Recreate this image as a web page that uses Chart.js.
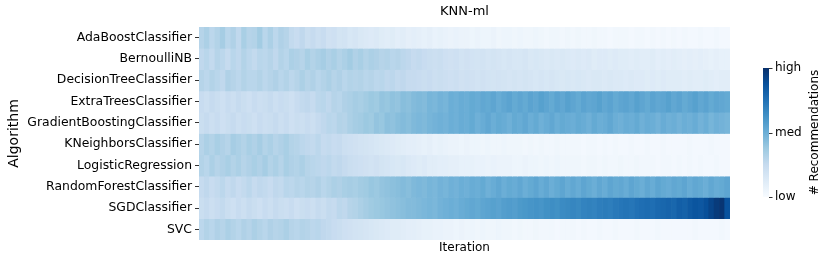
<!DOCTYPE html>
<html>
<head>
<meta charset="utf-8">
<title>KNN-ml</title>
<script src="https://cdn.jsdelivr.net/npm/chart.js"></script>
<style>
  html, body { margin: 0; padding: 0; background: #fff; }
  .wrap { position: relative; width: 831px; height: 265px; }
</style>
</head>
<body>
<div class="wrap"><canvas id="heat" width="831" height="265"></canvas></div>
<script>
// rows of the heatmap, top to bottom
const algorithms = [
  'AdaBoostClassifier', 'BernoulliNB', 'DecisionTreeClassifier', 'ExtraTreesClassifier',
  'GradientBoostingClassifier', 'KNeighborsClassifier', 'LogisticRegression',
  'RandomForestClassifier', 'SGDClassifier', 'SVC'
];

// colour level per iteration (0 = low, 100 = high)
const adaBoost = [
  30,33,28,31,35,29,32,27,34,30, 31,36,29,33,28,32,30,26,24,27,
  23,25,22,24,20,21,18,19,16,17, 15,14,13,14,12,11,12,10,11,9,
  10,9,8,9,7,8,7,6,7,6, 6,5,6,5,5,6,4,5,5,4,
  5,4,4,5,4,3,4,4,3,4, 3,4,3,3,4,3,3,2,3,3,
  3,2,3,3,2,3,2,3,2,3, 2,3,2,2,3,2,2,3,2,2
];
const bernoulliNB = [
  27,29,26,30,28,25,29,27,31,28, 26,29,28,30,27,31,29,33,32,30,
  34,31,33,35,32,34,31,33,36,32, 34,31,33,32,30,31,29,30,28,27,
  25,26,24,23,22,23,21,20,21,19, 20,19,18,19,17,18,17,16,17,16,
  16,17,15,16,15,14,15,14,15,14, 13,14,13,14,12,13,13,12,13,12,
  12,11,12,11,11,12,10,11,10,11, 10,9,10,9,10,9,8,9,8,8
];
const decisionTree = [
  30,28,31,29,27,32,30,28,31,29, 29,31,28,30,32,29,31,28,30,33,
  30,32,29,31,33,30,32,29,31,30, 31,29,30,28,29,27,28,26,27,25,
  25,24,23,24,22,23,22,21,22,20, 21,20,19,20,19,18,19,18,17,18,
  17,18,17,16,17,16,17,16,15,16, 15,16,15,14,15,15,14,15,14,14,
  13,14,13,13,12,13,12,13,12,12, 12,11,12,11,11,12,11,10,11,11
];
const extraTrees = [
  24,22,25,23,21,24,22,25,23,21, 24,22,23,25,22,24,23,21,24,26,
  27,25,28,29,27,30,29,32,33,35, 34,36,38,37,40,39,41,40,43,42,
  44,45,44,47,46,48,47,50,49,51, 50,52,51,53,52,54,51,53,55,52,
  54,52,55,53,56,54,52,55,53,56, 54,52,55,53,54,56,53,55,52,54,
  55,53,56,54,52,55,53,54,56,53, 55,52,54,56,53,55,52,54,53,52
];
const gradientBoosting = [
  23,25,22,24,21,23,25,22,24,23, 21,24,22,23,25,22,24,21,23,22,
  24,22,25,27,29,28,31,30,33,35, 36,38,37,40,39,42,41,43,44,43,
  45,46,45,47,48,49,48,50,49,51, 50,52,49,51,53,50,52,51,49,52,
  51,53,50,52,49,51,53,50,52,51, 50,52,51,49,52,50,51,53,50,49,
  51,50,52,49,51,50,48,51,49,50, 48,50,49,51,48,50,47,49,48,47
];
const kNeighbors = [
  30,33,31,34,32,30,35,33,31,34, 32,35,31,33,30,32,34,31,30,28,
  27,26,28,25,26,24,25,22,21,20, 19,18,17,16,15,14,13,12,11,10,
  10,9,8,9,7,8,7,6,6,5, 6,5,5,4,5,4,4,5,4,4,
  4,3,4,3,4,3,3,4,3,3, 3,3,2,3,3,2,3,2,3,2,
  2,3,2,2,3,2,2,3,2,2, 2,2,3,2,2,2,3,2,2,2
];
const logisticRegression = [
  31,29,33,30,32,34,31,33,30,32, 34,32,35,31,33,30,34,32,31,33,
  30,29,28,27,28,26,27,25,23,22, 21,20,19,20,18,17,16,15,16,14,
  13,12,13,11,11,10,10,9,9,8, 8,8,7,7,6,7,6,6,6,5,
  5,6,5,5,4,5,4,5,4,4, 4,4,3,4,4,3,4,3,3,4,
  3,3,4,3,3,3,2,3,3,2, 3,2,3,2,3,2,2,3,2,2
];
const randomForest = [
  25,27,24,26,28,25,27,24,26,28, 25,27,26,24,27,26,29,28,30,29,
  31,30,32,29,31,33,32,34,35,34, 36,37,39,38,40,41,42,43,44,43,
  45,46,45,47,46,48,47,49,48,50, 49,51,50,52,49,51,53,50,52,51,
  53,50,52,54,51,53,50,52,54,51, 53,51,54,52,50,53,51,54,52,53,
  51,54,52,50,53,51,54,52,51,53, 52,54,51,53,52,50,53,51,52,54
];
const sgd = [
  23,25,22,24,26,23,21,24,22,25, 23,21,24,22,25,23,22,24,21,23,
  24,22,25,23,26,25,28,27,30,31, 33,35,37,38,39,40,41,42,43,44,
  44,45,46,47,46,48,49,50,49,51, 52,53,52,54,55,56,55,57,58,57,
  59,60,61,62,61,63,64,63,65,66, 67,66,68,69,68,70,71,70,72,73,
  74,73,75,76,77,76,78,79,80,79, 82,81,84,86,85,88,92,96,98,87
];
const svc = [
  28,31,29,32,30,33,31,29,32,30, 33,31,29,32,30,31,33,30,29,31,
  30,28,29,27,26,24,23,21,20,19, 18,17,16,15,14,13,12,12,11,10,
  10,9,8,8,7,7,6,6,5,6, 5,5,4,5,4,4,5,4,4,3,
  4,3,3,4,3,3,3,2,3,3, 3,2,3,2,2,3,2,2,3,2,
  2,2,3,2,2,2,3,2,2,2, 2,2,2,3,2,2,2,2,3,2
];

const rows = [adaBoost, bernoulliNB, decisionTree, extraTrees, gradientBoosting,
  kNeighbors, logisticRegression, randomForest, sgd, svc];

const colorbarTicks = ['low', 'med', 'high'];

// matplotlib "Blues"
const BLUES = ['#f7fbff', '#deebf7', '#c6dbef', '#9ecae1', '#6baed6', '#4292c6', '#2171b5', '#08519c', '#08306b'];

function hexRgb(h) {
  return [parseInt(h.slice(1, 3), 16), parseInt(h.slice(3, 5), 16), parseInt(h.slice(5, 7), 16)];
}

function blues(v) {
  const t = Math.max(0, Math.min(1, v / 100)) * (BLUES.length - 1);
  const i = Math.min(BLUES.length - 2, Math.floor(t));
  const f = t - i;
  const a = hexRgb(BLUES[i]), b = hexRgb(BLUES[i + 1]);
  const c = a.map((x, k) => Math.round(x + (b[k] - x) * f));
  return `rgb(${c[0]},${c[1]},${c[2]})`;
}

const FONT = "'DejaVu Sans', sans-serif";

// one dataset per algorithm, one floating bar per iteration
const datasets = rows.map((vals, r) => ({
  label: algorithms[r],
  data: vals.map((v, i) => ({ x: [i, i + 1], y: algorithms[r] })),
  backgroundColor: vals.map(blues),
  borderWidth: 0,
  barPercentage: 1,
  categoryPercentage: 1,
  grouped: false
}));

// title over the heatmap + colorbar on the right
const extras = {
  id: 'extras',
  afterDraw(chart) {
    const { ctx, chartArea } = chart;
    ctx.save();
    ctx.fillStyle = '#000';
    ctx.font = `13px ${FONT}`;
    ctx.textAlign = 'center';
    ctx.textBaseline = 'middle';
    ctx.fillText('KNN-ml', (chartArea.left + chartArea.right) / 2, 12);

    const x = chartArea.right + 33, w = 6;
    const top = chartArea.top + 41, bottom = chartArea.bottom - 43;
    const g = ctx.createLinearGradient(0, bottom, 0, top);
    BLUES.forEach((c, i) => g.addColorStop(i / (BLUES.length - 1), c));
    ctx.fillStyle = g;
    ctx.fillRect(x, top, w, bottom - top);
    ctx.strokeStyle = '#333';
    ctx.lineWidth = 1;
    ctx.fillStyle = '#000';
    ctx.font = `12px ${FONT}`;
    ctx.textAlign = 'left';
    colorbarTicks.forEach((t, i) => {
      const y = bottom - (bottom - top) * i / (colorbarTicks.length - 1);
      ctx.beginPath();
      ctx.moveTo(x + w, Math.round(y) + 0.5);
      ctx.lineTo(x + w + 3.5, Math.round(y) + 0.5);
      ctx.stroke();
      ctx.fillText(t, x + w + 6, y);
    });
    ctx.translate(x + 52, (top + bottom) / 2);
    ctx.rotate(-Math.PI / 2);
    ctx.textAlign = 'center';
    ctx.fillText('# Recommendations', 0, 0);
    ctx.restore();
  }
};

new Chart(document.getElementById('heat'), {
  type: 'bar',
  data: { labels: algorithms, datasets },
  options: {
    indexAxis: 'y',
    responsive: false,
    animation: false,
    layout: { padding: { left: 0, right: 101, top: 27, bottom: 0 } },
    plugins: {
      legend: { display: false },
      tooltip: { enabled: false },
      title: { display: false }
    },
    scales: {
      x: {
        type: 'linear',
        min: 0,
        max: rows[0].length,
        ticks: { display: false },
        grid: { display: false },
        border: { display: false },
        title: {
          display: true,
          text: 'Iteration',
          color: '#000',
          font: { family: FONT, size: 12 },
          padding: { top: 10, bottom: 10 }
        },
        afterFit(scale) { scale.height = 25; }
      },
      y: {
        type: 'category',
        offset: true,
        grid: { display: true, drawOnChartArea: false, drawTicks: true, tickLength: 4, offset: false, color: '#333' },
        border: { display: false },
        ticks: { color: '#000', padding: 3, font: { family: FONT, size: 12.4 } },
        title: {
          display: true,
          text: 'Algorithm',
          color: '#000',
          font: { family: FONT, size: 14 },
          padding: { top: 6, bottom: 0 }
        },
        afterFit(scale) { scale.width = 199; }
      }
    }
  },
  plugins: [extras]
});
</script>
</body>
</html>
